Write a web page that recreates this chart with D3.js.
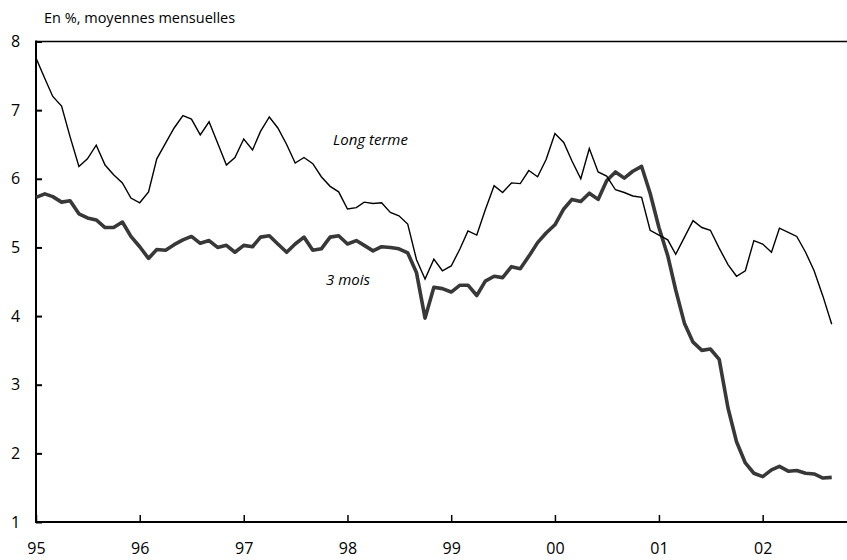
<!DOCTYPE html>
<html>
<head>
<meta charset="utf-8">
<script src="https://cdn.jsdelivr.net/npm/d3@7"></script>
<style>
  body { margin: 0; background: #fff; }
  svg text { font-family: "Open Sans", "Lato", sans-serif; fill: #000; }
</style>
</head>
<body>
<svg id="chart" width="847" height="560"></svg>
<script>
const width = 847;
const height = 560;

// monthly averages, Jan 1995 .. Sep 2002
const longTerme = [
  7.76, 7.46, 7.20, 7.06, 6.61, 6.18, 6.29, 6.49, 6.20, 6.06, 5.94, 5.72,
  5.65, 5.81, 6.29, 6.52, 6.74, 6.92, 6.87, 6.64, 6.83, 6.52, 6.20, 6.31,
  6.58, 6.42, 6.69, 6.90, 6.74, 6.50, 6.23, 6.31, 6.22, 6.03, 5.89, 5.81,
  5.56, 5.58, 5.66, 5.64, 5.65, 5.51, 5.46, 5.34, 4.82, 4.54, 4.83, 4.66,
  4.73, 4.98, 5.24, 5.18, 5.55, 5.90, 5.80, 5.94, 5.93, 6.12, 6.03, 6.28,
  6.66, 6.53, 6.26, 6.00, 6.44, 6.10, 6.04, 5.84, 5.80, 5.75, 5.73, 5.25,
  5.18, 5.11, 4.90, 5.15, 5.39, 5.29, 5.25, 4.99, 4.75, 4.58, 4.66, 5.10,
  5.05, 4.93, 5.28, 5.22, 5.16, 4.93, 4.66, 4.29, 3.88
];

const troisMois = [
  5.73, 5.78, 5.74, 5.66, 5.68, 5.49, 5.43, 5.40, 5.29, 5.29, 5.37, 5.16,
  5.01, 4.84, 4.97, 4.96, 5.04, 5.11, 5.16, 5.06, 5.10, 5.00, 5.03, 4.93,
  5.03, 5.01, 5.15, 5.17, 5.05, 4.93, 5.05, 5.15, 4.96, 4.98, 5.15, 5.17,
  5.05, 5.10, 5.03, 4.95, 5.01, 5.00, 4.98, 4.92, 4.63, 3.97, 4.42, 4.40,
  4.35, 4.45, 4.45, 4.30, 4.51, 4.58, 4.56, 4.72, 4.69, 4.87, 5.07, 5.21,
  5.33, 5.56, 5.70, 5.67, 5.79, 5.70, 5.97, 6.10, 6.01, 6.11, 6.18, 5.79,
  5.29, 4.88, 4.38, 3.89, 3.62, 3.50, 3.52, 3.37, 2.66, 2.17, 1.86, 1.71,
  1.66, 1.76, 1.81, 1.74, 1.75, 1.71, 1.70, 1.64, 1.65
];

const months = d3.timeMonth.range(new Date(1995, 0, 1), new Date(2002, 9, 1));
const yearTicks = d3.timeYear.range(new Date(1995, 0, 1), new Date(2003, 0, 1));
const yTicks = [1, 2, 3, 4, 5, 6, 7, 8];

const svg = d3.select("#chart");

const x = d3.scaleTime()
  .domain([new Date(1995, 0, 1), new Date(2003, 0, 1)])
  .range([36, 36 + 103.8 * 8]);

const y = d3.scaleLinear()
  .domain([1, 8])
  .range([522, 41.5]);

// title
svg.append("text")
  .attr("x", 44)
  .attr("y", 23)
  .style("font-size", "14.5px")
  .text("En %, moyennes mensuelles");

// top border
svg.append("line")
  .attr("x1", 36).attr("x2", width)
  .attr("y1", y(8)).attr("y2", y(8))
  .attr("stroke", "#000").attr("stroke-width", 1.5);

// y axis
const yAxis = svg.append("g")
  .attr("transform", "translate(36,0)")
  .call(d3.axisRight(y).tickValues(yTicks).tickSize(6).tickFormat(d3.format("d")));
yAxis.select(".domain").remove();
yAxis.selectAll(".tick line").attr("stroke", "#000").attr("stroke-width", 2);
yAxis.selectAll(".tick text")
  .attr("x", -25)
  .attr("text-anchor", "start")
  .style("font-size", "16px");

svg.append("line")
  .attr("x1", 36).attr("x2", 36)
  .attr("y1", y(8) - 1).attr("y2", y(1) + 1)
  .attr("stroke", "#000").attr("stroke-width", 2);

// x axis
const xAxis = svg.append("g")
  .attr("transform", `translate(0,${y(1)})`)
  .call(d3.axisTop(x).tickValues(yearTicks).tickSize(7).tickFormat(d3.timeFormat("%y")));
xAxis.select(".domain").remove();
xAxis.selectAll(".tick line").attr("stroke", "#000").attr("stroke-width", 1.5);
xAxis.selectAll(".tick text")
  .attr("y", 32)
  .style("font-size", "16px");

svg.append("line")
  .attr("x1", 35).attr("x2", width)
  .attr("y1", y(1)).attr("y2", y(1))
  .attr("stroke", "#000").attr("stroke-width", 2);

const line = d3.line()
  .x((d, i) => x(months[i]))
  .y(d => y(d));

svg.append("path")
  .datum(troisMois)
  .attr("d", line)
  .attr("fill", "none")
  .attr("stroke", "#383838")
  .attr("stroke-width", 3.6)
  .attr("stroke-linejoin", "round");

svg.append("path")
  .datum(longTerme)
  .attr("d", line)
  .attr("fill", "none")
  .attr("stroke", "#000")
  .attr("stroke-width", 1.4);

// series labels
svg.append("text")
  .attr("x", 333).attr("y", 145)
  .style("font-size", "15px")
  .style("font-style", "italic")
  .text("Long terme");

svg.append("text")
  .attr("x", 326).attr("y", 285)
  .style("font-size", "15px")
  .style("font-style", "italic")
  .text("3 mois");
</script>
</body>
</html>
